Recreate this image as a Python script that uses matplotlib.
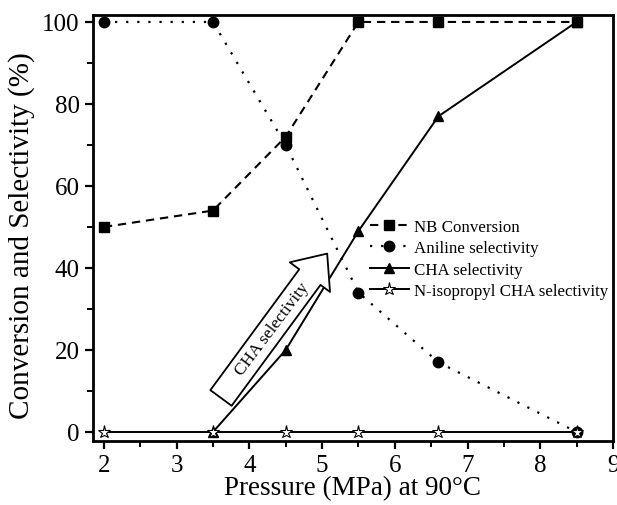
import matplotlib.pyplot as plt
from matplotlib.patches import FancyArrowPatch
from matplotlib.ticker import MultipleLocator

plt.rcParams['font.family'] = ['Liberation Serif', 'DejaVu Serif']

# data
pressure = [2, 3.5, 4.5, 5.5, 6.6, 8.5]
nb_conversion = [50, 54, 72, 100, 100, 100]
aniline_sel = [100, 100, 70, 34, 17, 0]
cha_pressure = [3.5, 4.5, 5.5, 6.6, 8.5]
cha_sel = [0, 20, 49, 77, 100]
nipcha_sel = [0, 0, 0, 0, 0, 0]

fig = plt.figure(figsize=(6.17, 5.06), dpi=100)
ax = fig.add_axes([0.1507, 0.1265, 0.8428, 0.8419])

ax.plot(pressure, nb_conversion, ls=(0, (4, 2.8)), color='black', lw=1.5,
        marker='s', ms=6.5, label='NB Conversion')
ax.plot(pressure, aniline_sel, ls=(0, (1, 4)), color='black', lw=1.6,
        marker='o', ms=7.5, label='Aniline selectivity')
ax.plot(cha_pressure, cha_sel, ls='-', color='black', lw=1.4,
        marker='^', ms=7.5, label='CHA selectivity')
ax.plot(pressure, nipcha_sel, ls='-', color='black', lw=1.4,
        marker='*', ms=9.5, mfc='white', mec='black', mew=0.8,
        label='N-isopropyl CHA selectivity')

# hollow arrow with text
arrow = FancyArrowPatch((3.61, 8.3), (5.07, 43.5),
                        arrowstyle='simple,head_width=1.8,head_length=1.05,tail_width=0.95',
                        mutation_scale=20, shrinkA=0, shrinkB=0,
                        fc='white', ec='black', lw=1.3, zorder=5)
ax.add_patch(arrow)
ax.text(4.32, 25.2, 'CHA selectivity', rotation=53, ha='center', va='center',
        fontsize=12.5, zorder=6)

ax.set_xlim(1.85, 9.0)
ax.set_ylim(-2.2, 101.7)
ax.xaxis.set_major_locator(MultipleLocator(1))
ax.xaxis.set_minor_locator(MultipleLocator(0.5))
ax.yaxis.set_major_locator(MultipleLocator(20))
ax.yaxis.set_minor_locator(MultipleLocator(10))
ax.tick_params(which='major', direction='out', length=6, width=1.6, labelsize=18)
ax.tick_params(which='minor', direction='out', length=4, width=1.4)
ax.tick_params(top=False, right=False)
for sp in ax.spines.values():
    sp.set_linewidth(2)

ax.set_xlabel('Pressure (MPa) at 90°C', fontsize=19.5)
ax.xaxis.set_label_coords(0.5, -0.08)
ax.set_ylabel('Conversion and Selectivity (%)', fontsize=21)
ax.yaxis.set_label_coords(-0.112, 0.484)

ax.legend(loc='upper left', bbox_to_anchor=(0.519, 0.5376), frameon=False,
          fontsize=12.2, handlelength=2.3, handletextpad=0.3, labelspacing=0.32,
          borderaxespad=0)

fig.savefig('out.png', dpi=100)
